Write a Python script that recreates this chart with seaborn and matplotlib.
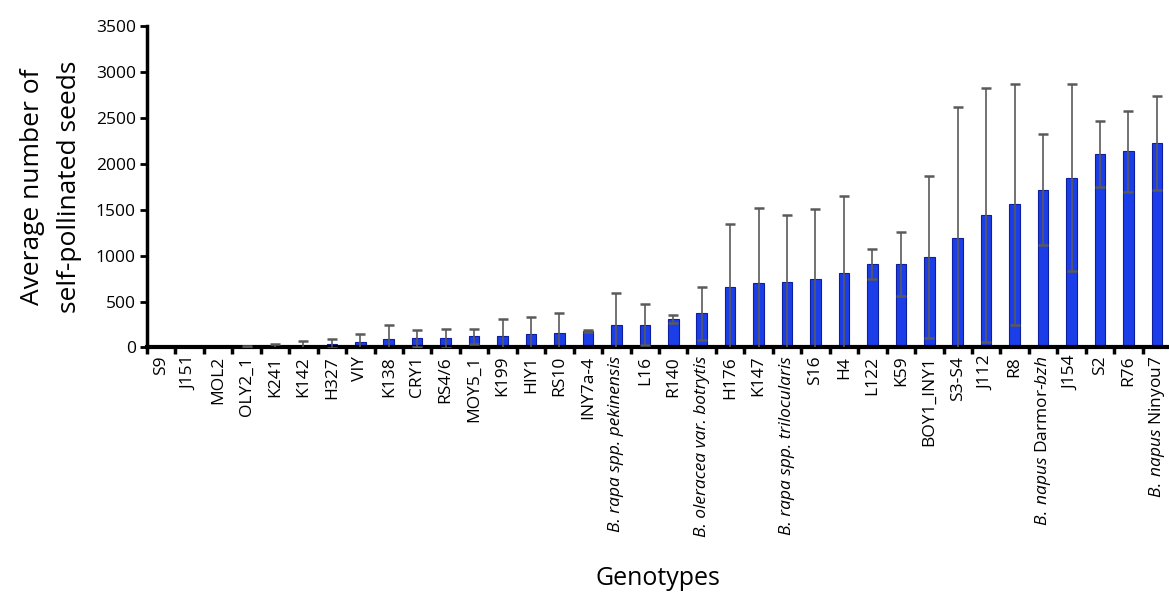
import numpy as np
import pandas as pd
import matplotlib
matplotlib.use("Agg")
import matplotlib.pyplot as plt
import seaborn as sns

# Genotypes ordered by mean seed set
genotypes = [
    "S9", "J151", "MOL2", "OLY2_1", "K241", "K142", "H327", "VIY", "K138",
    "CRY1", "RS4/6", "MOY5_1", "K199", "HIY1", "RS10", "INY7a-4",
    "B. rapa spp. pekinensis",
    "L16", "R140",
    "B. oleracea var. botrytis",
    "H176", "K147",
    "B. rapa spp. trilocularis",
    "S16", "H4", "L122", "K59", "BOY1_INY1", "S3-S4", "J112", "R8",
    r"$\mathit{B.\:napus}$ Darmor-$\mathit{bzh}$",
    "J154", "S2", "R76",
    r"$\mathit{B.\:napus}$ Ninyou7",
]

# Species names written fully in italics
italic_labels = [
    "B. rapa spp. pekinensis",
    "B. oleracea var. botrytis",
    "B. rapa spp. trilocularis",
]

# Average number of self-pollinated seeds per genotype
mean_seeds = [
    0, 0, 0, 5, 10, 15, 40, 60, 90,
    100, 100, 120, 120, 145, 155, 175,
    250, 250, 310, 370,
    655, 700, 710,
    745, 815, 910, 910, 980, 1190, 1445, 1555,
    1715, 1845, 2105, 2135, 2225,
]

# Standard deviation
sd_seeds = [
    0, 0, 0, 15, 30, 55, 50, 90, 155,
    90, 105, 80, 195, 185, 215, 10,
    340, 225, 45, 285,
    690, 820, 730,
    765, 830, 165, 345, 880, 1420, 1380, 1315,
    605, 1015, 355, 440, 515,
]

y_ticks = [0, 500, 1000, 1500, 2000, 2500, 3000, 3500]

sns.set_theme(style="white")
plt.rcParams["font.family"] = ["Open Sans", "DejaVu Sans"]
plt.rcParams["mathtext.fontset"] = "custom"
plt.rcParams["mathtext.rm"] = "Open Sans"
plt.rcParams["mathtext.it"] = "Open Sans:italic"
plt.rcParams["text.color"] = "black"
plt.rcParams["axes.labelcolor"] = "black"
plt.rcParams["xtick.color"] = "black"
plt.rcParams["ytick.color"] = "black"

df = pd.DataFrame({"genotype": genotypes, "seeds": mean_seeds, "sd": sd_seeds})

fig = plt.figure(figsize=(11.69, 5.93), dpi=100)
ax = fig.add_axes([0.1257, 0.414, 0.8761, 0.5428])

sns.barplot(data=df, x="genotype", y="seeds", color="#1c3ee8",
            width=0.37, edgecolor="#0d1f9e", linewidth=0.8,
            saturation=1, errorbar=None, ax=ax)

# Error bars only where there is spread to show
xpos = np.arange(len(genotypes))
has_sd = df["sd"] > 0
ax.errorbar(xpos[has_sd], df.loc[has_sd, "seeds"], yerr=df.loc[has_sd, "sd"],
            fmt="none", ecolor="#5a5a5a", elinewidth=1.2, capsize=3.5,
            capthick=1.8, zorder=3)

ax.set_ylim(0, 3500)
ax.set_xlim(-0.5, len(genotypes) - 0.5)
ax.set_yticks(y_ticks)
ax.set_yticklabels([str(t) for t in y_ticks], fontsize=12.5)

# Category labels centred under bars, tick marks between categories
ax.set_xticks(xpos)
ax.set_xticklabels(genotypes, rotation=90, fontsize=12.5)
for lab in ax.get_xticklabels():
    if lab.get_text() in italic_labels:
        lab.set_fontstyle("italic")
ax.tick_params(axis="x", which="major", length=0, pad=6)
ax.set_xticks(np.arange(len(genotypes) + 1) - 0.5, minor=True)
ax.tick_params(axis="x", which="minor", bottom=True, length=5, width=2.5,
               color="black", direction="out")
ax.tick_params(axis="y", left=True, length=5, width=2, color="black",
               direction="out", pad=3)

for side in ["top", "right"]:
    ax.spines[side].set_visible(False)
ax.spines["left"].set_linewidth(2.5)
ax.spines["left"].set_color("black")
ax.spines["bottom"].set_linewidth(3)
ax.spines["bottom"].set_color("black")

ax.set_ylabel("Average number of\nself-pollinated seeds", fontsize=19,
              linespacing=1.65, labelpad=10)
ax.set_xlabel("")
fig.text(0.563, 0.025, "Genotypes", fontsize=18, ha="center", va="center")

fig.savefig("out.png", dpi=100)
